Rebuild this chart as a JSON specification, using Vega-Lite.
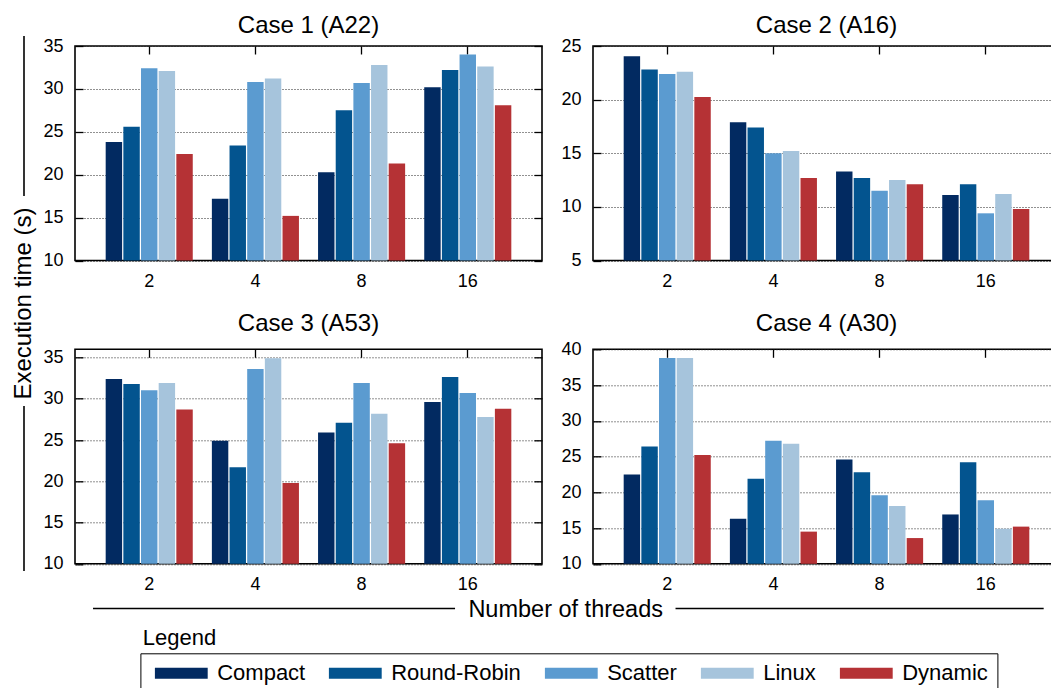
{
"$schema": "https://vega.github.io/schema/vega-lite/v6.json",
"padding": {"left": 11, "top": 12, "right": 0, "bottom": 0},
"datasets": {"bars": [
{"case":"Case 1 (A22)","threads":"2","scheme":"Compact","time":23.8},
{"case":"Case 1 (A22)","threads":"2","scheme":"Round-Robin","time":25.6},
{"case":"Case 1 (A22)","threads":"2","scheme":"Scatter","time":32.4},
{"case":"Case 1 (A22)","threads":"2","scheme":"Linux","time":32.1},
{"case":"Case 1 (A22)","threads":"2","scheme":"Dynamic","time":22.4},
{"case":"Case 1 (A22)","threads":"4","scheme":"Compact","time":17.2},
{"case":"Case 1 (A22)","threads":"4","scheme":"Round-Robin","time":23.4},
{"case":"Case 1 (A22)","threads":"4","scheme":"Scatter","time":30.8},
{"case":"Case 1 (A22)","threads":"4","scheme":"Linux","time":31.2},
{"case":"Case 1 (A22)","threads":"4","scheme":"Dynamic","time":15.2},
{"case":"Case 1 (A22)","threads":"8","scheme":"Compact","time":20.3},
{"case":"Case 1 (A22)","threads":"8","scheme":"Round-Robin","time":27.5},
{"case":"Case 1 (A22)","threads":"8","scheme":"Scatter","time":30.7},
{"case":"Case 1 (A22)","threads":"8","scheme":"Linux","time":32.8},
{"case":"Case 1 (A22)","threads":"8","scheme":"Dynamic","time":21.3},
{"case":"Case 1 (A22)","threads":"16","scheme":"Compact","time":30.2},
{"case":"Case 1 (A22)","threads":"16","scheme":"Round-Robin","time":32.2},
{"case":"Case 1 (A22)","threads":"16","scheme":"Scatter","time":34.0},
{"case":"Case 1 (A22)","threads":"16","scheme":"Linux","time":32.6},
{"case":"Case 1 (A22)","threads":"16","scheme":"Dynamic","time":28.1},
{"case":"Case 2 (A16)","threads":"2","scheme":"Compact","time":24.05},
{"case":"Case 2 (A16)","threads":"2","scheme":"Round-Robin","time":22.8},
{"case":"Case 2 (A16)","threads":"2","scheme":"Scatter","time":22.4},
{"case":"Case 2 (A16)","threads":"2","scheme":"Linux","time":22.6},
{"case":"Case 2 (A16)","threads":"2","scheme":"Dynamic","time":20.25},
{"case":"Case 2 (A16)","threads":"4","scheme":"Compact","time":17.9},
{"case":"Case 2 (A16)","threads":"4","scheme":"Round-Robin","time":17.4},
{"case":"Case 2 (A16)","threads":"4","scheme":"Scatter","time":15.0},
{"case":"Case 2 (A16)","threads":"4","scheme":"Linux","time":15.2},
{"case":"Case 2 (A16)","threads":"4","scheme":"Dynamic","time":12.7},
{"case":"Case 2 (A16)","threads":"8","scheme":"Compact","time":13.3},
{"case":"Case 2 (A16)","threads":"8","scheme":"Round-Robin","time":12.7},
{"case":"Case 2 (A16)","threads":"8","scheme":"Scatter","time":11.5},
{"case":"Case 2 (A16)","threads":"8","scheme":"Linux","time":12.5},
{"case":"Case 2 (A16)","threads":"8","scheme":"Dynamic","time":12.1},
{"case":"Case 2 (A16)","threads":"16","scheme":"Compact","time":11.1},
{"case":"Case 2 (A16)","threads":"16","scheme":"Round-Robin","time":12.1},
{"case":"Case 2 (A16)","threads":"16","scheme":"Scatter","time":9.4},
{"case":"Case 2 (A16)","threads":"16","scheme":"Linux","time":11.2},
{"case":"Case 2 (A16)","threads":"16","scheme":"Dynamic","time":9.8},
{"case":"Case 3 (A53)","threads":"2","scheme":"Compact","time":32.4},
{"case":"Case 3 (A53)","threads":"2","scheme":"Round-Robin","time":31.8},
{"case":"Case 3 (A53)","threads":"2","scheme":"Scatter","time":31.05},
{"case":"Case 3 (A53)","threads":"2","scheme":"Linux","time":31.9},
{"case":"Case 3 (A53)","threads":"2","scheme":"Dynamic","time":28.7},
{"case":"Case 3 (A53)","threads":"4","scheme":"Compact","time":24.9},
{"case":"Case 3 (A53)","threads":"4","scheme":"Round-Robin","time":21.7},
{"case":"Case 3 (A53)","threads":"4","scheme":"Scatter","time":33.6},
{"case":"Case 3 (A53)","threads":"4","scheme":"Linux","time":34.9},
{"case":"Case 3 (A53)","threads":"4","scheme":"Dynamic","time":19.8},
{"case":"Case 3 (A53)","threads":"8","scheme":"Compact","time":25.9},
{"case":"Case 3 (A53)","threads":"8","scheme":"Round-Robin","time":27.1},
{"case":"Case 3 (A53)","threads":"8","scheme":"Scatter","time":31.9},
{"case":"Case 3 (A53)","threads":"8","scheme":"Linux","time":28.2},
{"case":"Case 3 (A53)","threads":"8","scheme":"Dynamic","time":24.6},
{"case":"Case 3 (A53)","threads":"16","scheme":"Compact","time":29.6},
{"case":"Case 3 (A53)","threads":"16","scheme":"Round-Robin","time":32.65},
{"case":"Case 3 (A53)","threads":"16","scheme":"Scatter","time":30.7},
{"case":"Case 3 (A53)","threads":"16","scheme":"Linux","time":27.8},
{"case":"Case 3 (A53)","threads":"16","scheme":"Dynamic","time":28.8},
{"case":"Case 4 (A30)","threads":"2","scheme":"Compact","time":22.5},
{"case":"Case 4 (A30)","threads":"2","scheme":"Round-Robin","time":26.4},
{"case":"Case 4 (A30)","threads":"2","scheme":"Scatter","time":38.8},
{"case":"Case 4 (A30)","threads":"2","scheme":"Linux","time":38.8},
{"case":"Case 4 (A30)","threads":"2","scheme":"Dynamic","time":25.2},
{"case":"Case 4 (A30)","threads":"4","scheme":"Compact","time":16.3},
{"case":"Case 4 (A30)","threads":"4","scheme":"Round-Robin","time":21.9},
{"case":"Case 4 (A30)","threads":"4","scheme":"Scatter","time":27.2},
{"case":"Case 4 (A30)","threads":"4","scheme":"Linux","time":26.8},
{"case":"Case 4 (A30)","threads":"4","scheme":"Dynamic","time":14.5},
{"case":"Case 4 (A30)","threads":"8","scheme":"Compact","time":24.6},
{"case":"Case 4 (A30)","threads":"8","scheme":"Round-Robin","time":22.8},
{"case":"Case 4 (A30)","threads":"8","scheme":"Scatter","time":19.6},
{"case":"Case 4 (A30)","threads":"8","scheme":"Linux","time":18.1},
{"case":"Case 4 (A30)","threads":"8","scheme":"Dynamic","time":13.6},
{"case":"Case 4 (A30)","threads":"16","scheme":"Compact","time":16.9},
{"case":"Case 4 (A30)","threads":"16","scheme":"Round-Robin","time":24.2},
{"case":"Case 4 (A30)","threads":"16","scheme":"Scatter","time":18.9},
{"case":"Case 4 (A30)","threads":"16","scheme":"Linux","time":14.9},
{"case":"Case 4 (A30)","threads":"16","scheme":"Dynamic","time":15.2}
]},
"config": {
  "font": "Liberation Sans",
  "view": {"stroke": "#000", "strokeWidth": 1.6},
  "axis": {"labelFont": "Liberation Sans", "labelFontSize": 18, "labelColor": "#000", "domain": false, "gridDash": [1, 2], "gridColor": "#222", "gridWidth": 1, "tickColor": "#000", "tickWidth": 1.3},
  "title": {"font": "Liberation Sans", "fontSize": 24, "fontWeight": "normal", "color": "#000"},
  "text": {"font": "Liberation Sans", "color": "#000"}
},
"spacing": 0,
"vconcat": [
{"hconcat": [
  {"width": 24, "height": 518, "view": {"stroke": null},
   "data": {"values": [{}]},
   "layer": [
    {"mark": {"type": "rule", "color": "#000", "strokeWidth": 1.6},
     "encoding": {"x": {"datum": 0.5, "scale": {"domain": [0, 1]}, "axis": null}, "y": {"datum": -0.0193, "scale": {"domain": [0, 1], "reverse": true}, "axis": null}, "y2": {"datum": 0.2896}}},
    {"mark": {"type": "rule", "color": "#000", "strokeWidth": 1.6},
     "encoding": {"x": {"datum": 0.5, "scale": {"domain": [0, 1]}, "axis": null}, "y": {"datum": 0.695, "scale": {"domain": [0, 1], "reverse": true}, "axis": null}, "y2": {"datum": 1.0135}}},
    {"mark": {"type": "text", "text": "Execution time (s)", "angle": 270, "fontSize": 24, "baseline": "middle", "align": "center"},
     "encoding": {"x": {"datum": 0.5, "scale": {"domain": [0, 1]}, "axis": null}, "y": {"datum": 0.4971, "scale": {"domain": [0, 1], "reverse": true}, "axis": null}}}
   ]},
  {"columns": 2, "spacing": {"row": 19.3, "column": 16},
   "concat": [
    {"title": {"text": "Case 1 (A22)", "offset": -0.7}, "width": 467, "height": 214.5,
     "data": {"name": "bars"}, "transform": [{"filter": "datum.case === 'Case 1 (A22)'"}],
     "layer": [
      {"mark": {"type": "bar"},
       "encoding": {
        "x": {"field": "threads", "type": "ordinal", "sort": ["2","4","8","16"], "scale": {"paddingInner": 0.18, "paddingOuter": 0.289}, "axis": {"orient": "bottom", "title": null, "labelAngle": 0, "ticks": false, "labelPadding": 12, "grid": false}},
        "xOffset": {"field": "scheme", "type": "nominal", "sort": ["Compact","Round-Robin","Scatter","Linux","Dynamic"], "scale": {"paddingInner": 0.07}},
        "y": {"field": "time", "type": "quantitative", "scale": {"domain": [10, 35], "nice": false, "zero": false}, "axis": {"title": null, "values": [10,15,20,25,30,35], "grid": true, "ticks": true, "tickSize": -8, "labelPadding": 20}},
        "y2": {"datum": 10},
        "color": {"field": "scheme", "type": "nominal", "sort": ["Compact","Round-Robin","Scatter","Linux","Dynamic"], "scale": {"domain": ["Compact","Round-Robin","Scatter","Linux","Dynamic"], "range": ["#022a61","#03548f","#5b9bd0","#a6c4dc","#b53235"]},
          "legend": {"title": null, "orient": "none", "legendX": 128.4, "legendY": 607.3, "direction": "horizontal", "columns": 5, "strokeColor": "#000", "padding": 9, "labelFontSize": 22, "labelFont": "Liberation Sans", "labelColor": "#000", "symbolType": "M-1,-1H8.6V1H-1Z", "symbolSize": 121, "symbolStrokeWidth": 0, "symbolOpacity": 1, "labelOffset": 45.8, "columnPadding": 18}}
       }},
      {"mark": {"type": "point", "opacity": 0},
       "encoding": {
        "x": {"field": "threads", "type": "ordinal", "sort": ["2","4","8","16"], "axis": {"orient": "top", "title": null, "labels": false, "ticks": true, "tickSize": -8, "grid": false}},
        "y": {"field": "time", "type": "quantitative", "axis": {"orient": "right", "title": null, "labels": false, "ticks": true, "tickSize": -8, "values": [10,15,20,25,30,35], "grid": false}}
       }}
     ],
     "resolve": {"axis": {"x": "independent", "y": "independent"}}},
    {"title": {"text": "Case 2 (A16)", "offset": -0.7}, "width": 467, "height": 214.5,
     "data": {"name": "bars"}, "transform": [{"filter": "datum.case === 'Case 2 (A16)'"}],
     "layer": [
      {"mark": {"type": "bar"},
       "encoding": {
        "x": {"field": "threads", "type": "ordinal", "sort": ["2","4","8","16"], "scale": {"paddingInner": 0.18, "paddingOuter": 0.289}, "axis": {"orient": "bottom", "title": null, "labelAngle": 0, "ticks": false, "labelPadding": 12, "grid": false}},
        "xOffset": {"field": "scheme", "type": "nominal", "sort": ["Compact","Round-Robin","Scatter","Linux","Dynamic"], "scale": {"paddingInner": 0.07}},
        "y": {"field": "time", "type": "quantitative", "scale": {"domain": [5, 25], "nice": false, "zero": false}, "axis": {"title": null, "values": [5,10,15,20,25], "grid": true, "ticks": true, "tickSize": -8, "labelPadding": 20}},
        "y2": {"datum": 5},
        "color": {"field": "scheme", "type": "nominal", "sort": ["Compact","Round-Robin","Scatter","Linux","Dynamic"], "scale": {"domain": ["Compact","Round-Robin","Scatter","Linux","Dynamic"], "range": ["#022a61","#03548f","#5b9bd0","#a6c4dc","#b53235"]},
          "legend": {"title": null, "orient": "none", "legendX": 128.4, "legendY": 607.3, "direction": "horizontal", "columns": 5, "strokeColor": "#000", "padding": 9, "labelFontSize": 22, "labelFont": "Liberation Sans", "labelColor": "#000", "symbolType": "M-1,-1H8.6V1H-1Z", "symbolSize": 121, "symbolStrokeWidth": 0, "symbolOpacity": 1, "labelOffset": 45.8, "columnPadding": 18}}
       }},
      {"mark": {"type": "point", "opacity": 0},
       "encoding": {
        "x": {"field": "threads", "type": "ordinal", "sort": ["2","4","8","16"], "axis": {"orient": "top", "title": null, "labels": false, "ticks": true, "tickSize": -8, "grid": false}},
        "y": {"field": "time", "type": "quantitative", "axis": {"orient": "right", "title": null, "labels": false, "ticks": true, "tickSize": -8, "values": [5,10,15,20,25], "grid": false}}
       }}
     ],
     "resolve": {"axis": {"x": "independent", "y": "independent"}}},
    {"title": {"text": "Case 3 (A53)", "offset": 12.2}, "width": 467, "height": 214.5,
     "data": {"name": "bars"}, "transform": [{"filter": "datum.case === 'Case 3 (A53)'"}],
     "layer": [
      {"mark": {"type": "bar"},
       "encoding": {
        "x": {"field": "threads", "type": "ordinal", "sort": ["2","4","8","16"], "scale": {"paddingInner": 0.18, "paddingOuter": 0.289}, "axis": {"orient": "bottom", "title": null, "labelAngle": 0, "ticks": false, "labelPadding": 12, "grid": false}},
        "xOffset": {"field": "scheme", "type": "nominal", "sort": ["Compact","Round-Robin","Scatter","Linux","Dynamic"], "scale": {"paddingInner": 0.07}},
        "y": {"field": "time", "type": "quantitative", "scale": {"domain": [10, 36], "nice": false, "zero": false}, "axis": {"title": null, "values": [10,15,20,25,30,35], "grid": true, "ticks": true, "tickSize": -8, "labelPadding": 20}},
        "y2": {"datum": 10},
        "color": {"field": "scheme", "type": "nominal", "sort": ["Compact","Round-Robin","Scatter","Linux","Dynamic"], "scale": {"domain": ["Compact","Round-Robin","Scatter","Linux","Dynamic"], "range": ["#022a61","#03548f","#5b9bd0","#a6c4dc","#b53235"]},
          "legend": {"title": null, "orient": "none", "legendX": 128.4, "legendY": 607.3, "direction": "horizontal", "columns": 5, "strokeColor": "#000", "padding": 9, "labelFontSize": 22, "labelFont": "Liberation Sans", "labelColor": "#000", "symbolType": "M-1,-1H8.6V1H-1Z", "symbolSize": 121, "symbolStrokeWidth": 0, "symbolOpacity": 1, "labelOffset": 45.8, "columnPadding": 18}}
       }},
      {"mark": {"type": "point", "opacity": 0},
       "encoding": {
        "x": {"field": "threads", "type": "ordinal", "sort": ["2","4","8","16"], "axis": {"orient": "top", "title": null, "labels": false, "ticks": true, "tickSize": -8, "grid": false}},
        "y": {"field": "time", "type": "quantitative", "axis": {"orient": "right", "title": null, "labels": false, "ticks": true, "tickSize": -8, "values": [10,15,20,25,30,35], "grid": false}}
       }}
     ],
     "resolve": {"axis": {"x": "independent", "y": "independent"}}},
    {"title": {"text": "Case 4 (A30)", "offset": 4.2}, "width": 467, "height": 214.5,
     "data": {"name": "bars"}, "transform": [{"filter": "datum.case === 'Case 4 (A30)'"}],
     "layer": [
      {"mark": {"type": "bar"},
       "encoding": {
        "x": {"field": "threads", "type": "ordinal", "sort": ["2","4","8","16"], "scale": {"paddingInner": 0.18, "paddingOuter": 0.289}, "axis": {"orient": "bottom", "title": null, "labelAngle": 0, "ticks": false, "labelPadding": 12, "grid": false}},
        "xOffset": {"field": "scheme", "type": "nominal", "sort": ["Compact","Round-Robin","Scatter","Linux","Dynamic"], "scale": {"paddingInner": 0.07}},
        "y": {"field": "time", "type": "quantitative", "scale": {"domain": [10, 40], "nice": false, "zero": false}, "axis": {"title": null, "values": [10,15,20,25,30,35,40], "grid": true, "ticks": true, "tickSize": -8, "labelPadding": 20}},
        "y2": {"datum": 10},
        "color": {"field": "scheme", "type": "nominal", "sort": ["Compact","Round-Robin","Scatter","Linux","Dynamic"], "scale": {"domain": ["Compact","Round-Robin","Scatter","Linux","Dynamic"], "range": ["#022a61","#03548f","#5b9bd0","#a6c4dc","#b53235"]},
          "legend": {"title": null, "orient": "none", "legendX": 128.4, "legendY": 607.3, "direction": "horizontal", "columns": 5, "strokeColor": "#000", "padding": 9, "labelFontSize": 22, "labelFont": "Liberation Sans", "labelColor": "#000", "symbolType": "M-1,-1H8.6V1H-1Z", "symbolSize": 121, "symbolStrokeWidth": 0, "symbolOpacity": 1, "labelOffset": 45.8, "columnPadding": 18}}
       }},
      {"mark": {"type": "point", "opacity": 0},
       "encoding": {
        "x": {"field": "threads", "type": "ordinal", "sort": ["2","4","8","16"], "axis": {"orient": "top", "title": null, "labels": false, "ticks": true, "tickSize": -8, "grid": false}},
        "y": {"field": "time", "type": "quantitative", "axis": {"orient": "right", "title": null, "labels": false, "ticks": true, "tickSize": -8, "values": [10,15,20,25,30,35,40], "grid": false}}
       }}
     ],
     "resolve": {"axis": {"x": "independent", "y": "independent"}}}
   ]}
 ], "spacing": 6},
{"width": 1040, "height": 56, "view": {"stroke": null},
 "data": {"values": [{}]},
 "layer": [
  {"mark": {"type": "rule", "color": "#000", "strokeWidth": 1.6},
   "encoding": {"x": {"datum": 0.0779, "scale": {"domain": [0, 1]}, "axis": null}, "x2": {"datum": 0.426}, "y": {"datum": 0.241, "scale": {"domain": [0, 1], "reverse": true}, "axis": null}}},
  {"mark": {"type": "rule", "color": "#000", "strokeWidth": 1.6},
   "encoding": {"x": {"datum": 0.638, "scale": {"domain": [0, 1]}, "axis": null}, "x2": {"datum": 0.992}, "y": {"datum": 0.241, "scale": {"domain": [0, 1], "reverse": true}, "axis": null}}},
  {"mark": {"type": "text", "text": "Number of threads", "fontSize": 23.5, "baseline": "middle", "align": "center"},
   "encoding": {"x": {"datum": 0.5324, "scale": {"domain": [0, 1]}, "axis": null}, "y": {"datum": 0.263, "scale": {"domain": [0, 1], "reverse": true}, "axis": null}}},
  {"mark": {"type": "text", "text": "Legend", "fontSize": 22, "baseline": "alphabetic", "align": "left"},
   "encoding": {"x": {"datum": 0.1257, "scale": {"domain": [0, 1]}, "axis": null}, "y": {"datum": 0.895, "scale": {"domain": [0, 1], "reverse": true}, "axis": null}}}
 ]}
]
}
